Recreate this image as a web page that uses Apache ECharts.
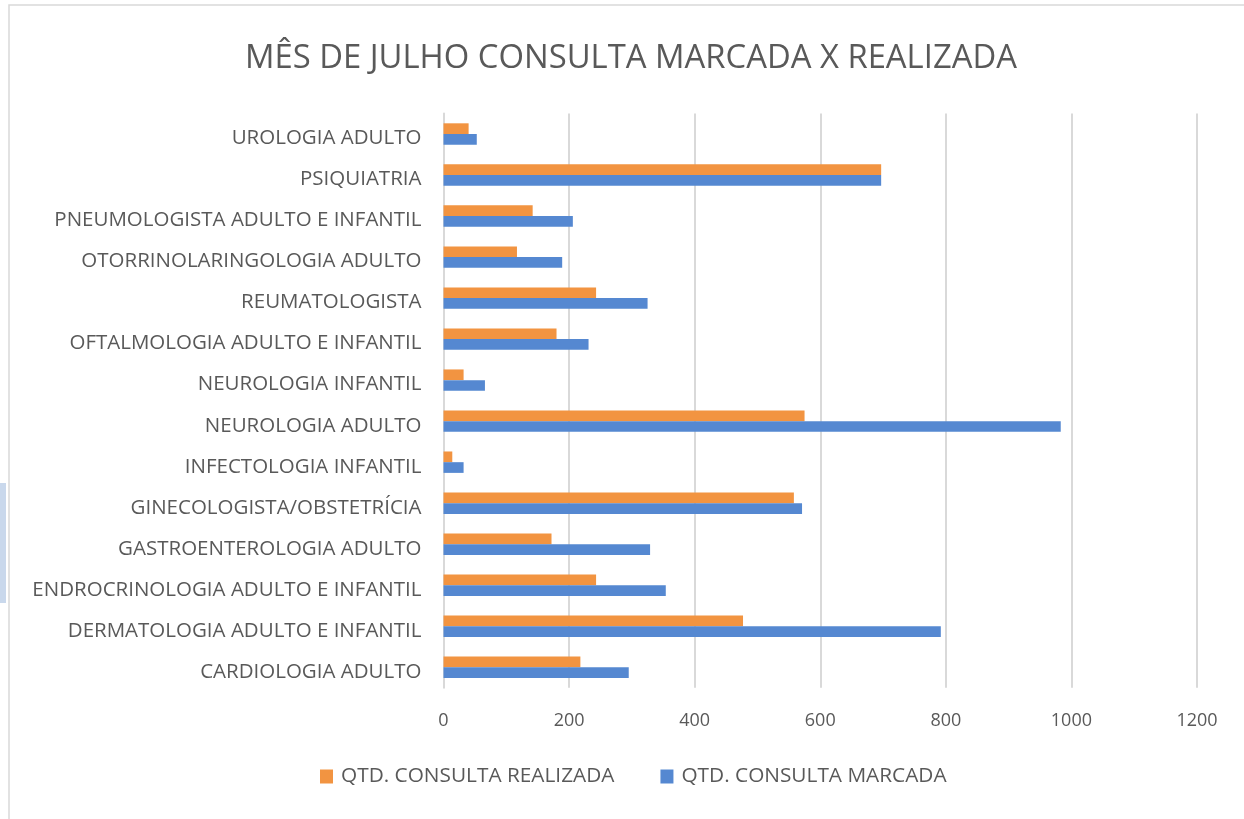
<!DOCTYPE html>
<html><head><meta charset="utf-8">
<script src="https://cdn.jsdelivr.net/npm/echarts@6/dist/echarts.min.js"></script>
<style>html,body{margin:0;padding:0;background:#fff}#c{width:1244px;height:819px}</style>
</head><body><div id="c"></div>
<script>
const categories = ['CARDIOLOGIA ADULTO','DERMATOLOGIA ADULTO E INFANTIL','ENDROCRINOLOGIA ADULTO E INFANTIL','GASTROENTEROLOGIA ADULTO','GINECOLOGISTA/OBSTETRÍCIA','INFECTOLOGIA INFANTIL','NEUROLOGIA ADULTO','NEUROLOGIA INFANTIL','OFTALMOLOGIA ADULTO E INFANTIL','REUMATOLOGISTA','OTORRINOLARINGOLOGIA ADULTO','PNEUMOLOGISTA ADULTO E INFANTIL','PSIQUIATRIA','UROLOGIA ADULTO'];
const marcada = [295, 792, 354, 329, 571, 32, 983, 66, 231, 325, 189, 206, 697, 53];
const realizada = [218, 477, 243, 172, 558, 14, 575, 32, 180, 243, 117, 142, 697, 40];
const xTicks = [0, 200, 400, 600, 800, 1000, 1200];
const FONT = 'Open Sans';
const chart = echarts.init(document.getElementById('c'));
chart.setOption({
  animation:false,
  textStyle:{fontFamily:FONT},
  title:{text:'MÊS DE JULHO CONSULTA MARCADA X REALIZADA', left:240, top:37,
    textStyle:{fontFamily:FONT,fontSize:32.8,fontWeight:'normal',color:'#595959'}},
  legend:{data:['QTD. CONSULTA REALIZADA','QTD. CONSULTA MARCADA'], bottom:27, left:315,
    itemWidth:13,itemHeight:14,itemGap:46, icon:'rect',
    textStyle:{fontFamily:FONT,fontSize:20.8,color:'#595959',padding:[0,0,0,3]}},
  grid:{left:443.5,right:47,top:113.5,bottom:131.2,containLabel:false},
  xAxis:{type:'value',min:0,max:1200,interval:200,
    axisLabel:{fontSize:18,color:'#595959',margin:24,formatter:v=>xTicks.includes(v)?String(v):''},
    splitLine:{lineStyle:{color:'#D9D9D9',width:2}},axisLine:{show:false},axisTick:{show:false}},
  yAxis:{type:'category',data:categories,
    axisLabel:{color:'#595959',margin:22,formatter:v=>'{a|'+v+'}',
      rich:{a:{fontFamily:FONT,fontSize:20.5,color:'#595959',padding:[9,0,0,0]}}},
    axisLine:{lineStyle:{color:'#D9D9D9',width:2}},axisTick:{show:false}},
  series:[
    {name:'QTD. CONSULTA REALIZADA',type:'bar',data:realizada,barWidth:10.7,barGap:'0%',
      itemStyle:{color:'#F29441'}},
    {name:'QTD. CONSULTA MARCADA',type:'bar',data:marcada,barWidth:10.7,barGap:'0%',
      itemStyle:{color:'#5588D1'}}
  ],
  graphic:[
    {type:'rect',shape:{x:9,y:5,width:1260,height:830},style:{fill:'none',stroke:'#D9D9D9',lineWidth:1.5},silent:true},
    {type:'rect',shape:{x:0,y:483,width:6,height:120},style:{fill:'#C9D8EC'},silent:true}
  ]
});
</script></body></html>
